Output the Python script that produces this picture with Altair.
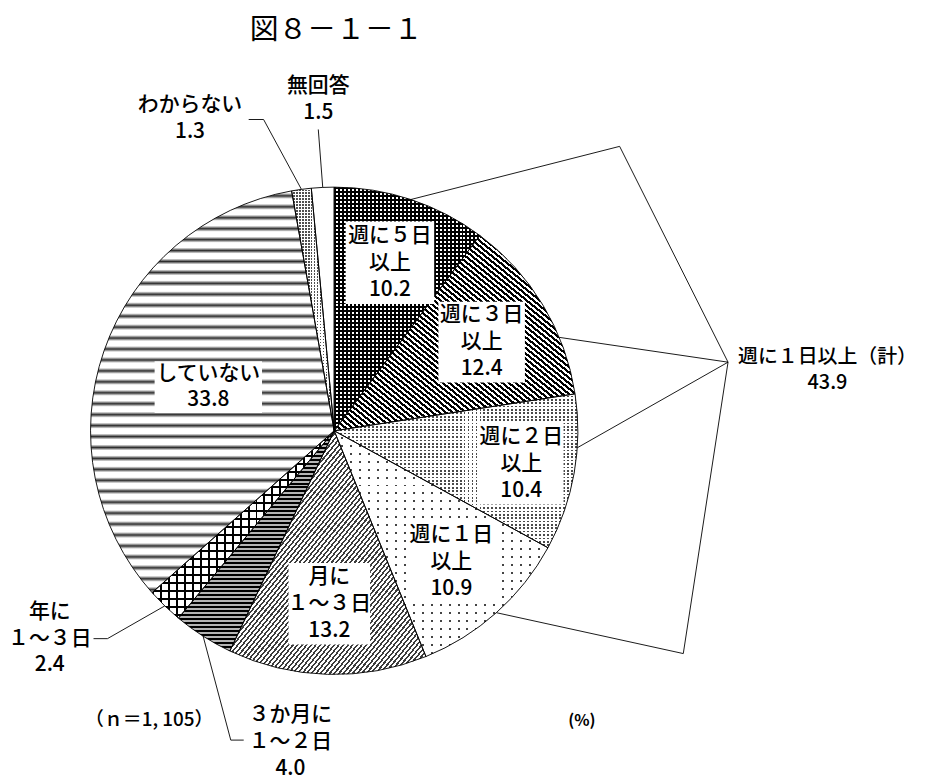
import math
import altair as alt
import pandas as pd

# ---------------- data ----------------
categories = ["週に５日以上", "週に３日以上", "週に２日以上", "週に１日以上", "月に１～３日",
              "３か月に１～２日", "年に１～３日", "していない", "わからない", "無回答"]
values = [10.2, 12.4, 10.4, 10.9, 13.2, 4.0, 2.4, 33.8, 1.3, 1.5]
label_names = ["週に５日\n以上", "週に３日\n以上", "週に２日\n以上", "週に１日\n以上", "月に\n１～３日",
               "３か月に\n１～２日", "年に\n１～３日", "していない", "わからない", "無回答"]
total_name = "週に１日以上（計）"
total_value = 43.9
n_label = "（ｎ＝1, 105）"
unit_label = "(%)"
title_text = "図８－１－１"

# ---------------- layout / style ----------------
W, H = 915, 772          # plot size (px); data coords = page coords (8px margin)
CX, CY, R = 336, 431, 245
FONT = "Noto Sans CJK JP"
FS = 21
FW = 500
LH = 27
TOTAL = sum(values)

inside = [0, 1, 2, 3, 4, 7]
label_radius = {0: 178, 1: 173, 2: 191, 3: 177, 4: 174, 7: 134}
box_size = {0: (89, 83), 1: (87, 81), 2: (85, 82), 3: (89, 82), 4: (82, 82), 7: (108, 52)}
outside_pos = {5: (292, 744), 6: (50, 640), 8: (191, 117), 9: (320, 98)}
outside_elbows = {5: [(232, 742), (245, 742)], 6: [(108, 640), (94, 640)],
                  8: [(265, 118), (250, 118)], 9: [(320, 128)]}
total_pos = (832, 370)
bracket_top = (623, 145)
bracket_vertex = (732, 362)
bracket_bottom = (687, 655)
anchor_frac = {0: 0.5, 1: 0.69, 2: 0.34, 3: 0.5}

# ---------------- derived tables ----------------
starts, ends, acc = [], [], 0.0
for v in values:
    starts.append(acc)
    acc += v
    ends.append(acc)

df = pd.DataFrame({"idx": list(range(len(values))), "cat": categories,
                   "value": values, "t0": starts, "t1": ends})


def ang(t):
    return t / TOTAL * 2 * math.pi


def edge_point(i, f=0.5, r=R):
    a = ang(starts[i] + f * (ends[i] - starts[i]))
    return CX + r * math.sin(a), CY - r * math.cos(a)


def wedge_bbox(i):
    a0, a1 = ang(starts[i]), ang(ends[i])
    pts = [(0.0, 0.0), (R * math.sin(a0), -R * math.cos(a0)), (R * math.sin(a1), -R * math.cos(a1))]
    for k in range(5):
        a = k * math.pi / 2
        if a0 <= a <= a1:
            pts.append((R * math.sin(a), -R * math.cos(a)))
    xs_ = [p[0] for p in pts]
    ys_ = [p[1] for p in pts]
    return max(xs_) - min(xs_), max(ys_) - min(ys_)


def stripes(kind, w, h, period, profile):
    """profile: list of (px within period, colour) stops, repeated every period px."""
    if kind == "h":
        L, c = h, dict(x1=0, y1=0, x2=0, y2=1)
    elif kind == "v":
        L, c = w, dict(x1=0, y1=0, x2=1, y2=0)
    elif kind == "d1":  # "/"
        L, c = 2 * w * h / math.hypot(w, h), dict(x1=0, y1=0, x2=1, y2=1)
    else:  # "\"
        L, c = 2 * w * h / math.hypot(w, h), dict(x1=0, y1=1, x2=1, y2=0)
    stops = []
    k = 0
    while k * period < L:
        for px, col in profile:
            stops.append((min((k * period + px) / L, 1.0), col))
        k += 1
    return alt.LinearGradient(gradient="linear",
                              stops=[alt.GradientStop(offset=round(o, 5), color=col) for o, col in stops],
                              **c)


def hard(period, width_a, col_a, col_b):
    return (period, [(0, col_a), (width_a, col_a), (width_a, col_b), (period, col_b)])


CLEAR = "rgba(255,255,255,0)"
WAVE = (11, [(0, "#ffffff"), (2.0, "#ffffff"), (3.5, "#9a9a9a"), (5.0, "#2e2e2e"),
             (6.5, "#9a9a9a"), (8.0, "#ffffff"), (11, "#ffffff")])
# pattern recipes per slice: list of layers
patterns = {
    0: [("h",) + hard(4, 2, "#000000", "#ffffff"), ("v",) + hard(4, 2, "#000000", CLEAR)],
    1: [("d2",) + hard(4.2, 2.2, "#000000", "#ffffff")],
    2: [("solid", "#4a4a4a"), ("h",) + hard(3.4, 1.7, "#ffffff", CLEAR),
        ("v",) + hard(4, 2.1, "#ffffff", CLEAR)],
    3: [("solid", "#444444"), ("h",) + hard(8, 6, "#ffffff", CLEAR),
        ("v",) + hard(9, 7, "#ffffff", CLEAR)],
    4: [("d1",) + hard(3.6, 1.6, "#3c3c3c", "#ffffff")],
    5: [("h",) + hard(4, 2, "#000000", "#b4b4b4")],
    6: [("h",) + hard(8, 2, "#000000", "#ffffff"), ("v",) + hard(8, 2, "#000000", CLEAR)],
    7: [("h",) + WAVE],
    8: [("solid", "#505050"), ("h",) + hard(3, 1.3, "#ffffff", CLEAR),
        ("v",) + hard(3, 1.3, "#ffffff", CLEAR)],
    9: [("solid", "#ffffff")],
}

xs = alt.Scale(domain=[8, 8 + W], nice=False, zero=False)
ys = alt.Scale(domain=[8, 8 + H], nice=False, zero=False, reverse=True)
ts = alt.Scale(domain=[0, TOTAL], nice=False)

base = alt.Chart(df)
layers = []
for i in range(len(values)):
    w, h = wedge_bbox(i)
    for spec in patterns[i]:
        if spec[0] == "solid":
            fill = spec[1]
        else:
            fill = stripes(spec[0], w, h, spec[1], spec[2])
        layers.append(
            base.transform_filter(alt.datum.idx == i)
            .mark_arc(radius=R, fill=fill, strokeWidth=0)
            .encode(theta=alt.Theta("t0:Q", scale=ts), theta2="t1:Q",
                    x=alt.value(CX - 8), y=alt.value(CY - 8))
        )

# outlines
layers.append(
    base.mark_arc(radius=R, fill="#ffffff", fillOpacity=0, stroke="#000000", strokeWidth=0.9)
    .encode(theta=alt.Theta("t0:Q", scale=ts), theta2="t1:Q",
            x=alt.value(CX - 8), y=alt.value(CY - 8))
)


def top_line_y(center_y, text):
    n = text.count("\n") + 1
    return center_y - (n - 1) * LH / 2


# inside labels (white boxes + text)
rows = []
for i in inside:
    lx, ly = edge_point(i, 0.5, label_radius[i])
    bw, bh = box_size[i]
    t = f"{label_names[i]}\n{values[i]:.1f}"
    rows.append({"x": lx, "y": top_line_y(ly, t), "bx": lx - bw / 2, "bx2": lx + bw / 2,
                 "by": ly - bh / 2, "by2": ly + bh / 2, "text": t})
inside_df = pd.DataFrame(rows)

layers.append(
    alt.Chart(inside_df).mark_rect(color="#ffffff").encode(
        x=alt.X("bx:Q", scale=xs, axis=None), x2="bx2:Q",
        y=alt.Y("by:Q", scale=ys, axis=None), y2="by2:Q")
)

# outside labels
orows = []
for i, (px, py) in outside_pos.items():
    t = f"{label_names[i]}\n{values[i]:.1f}"
    orows.append({"x": px, "y": top_line_y(py, t), "text": t})
text_df = pd.concat([inside_df[["x", "y", "text"]], pd.DataFrame(orows)], ignore_index=True)

layers.append(
    alt.Chart(text_df).mark_text(font=FONT, fontSize=FS, fontWeight=FW, lineBreak="\n", lineHeight=LH,
                                 align="center", baseline="middle", color="#000000").encode(
        x=alt.X("x:Q", scale=xs, axis=None), y=alt.Y("y:Q", scale=ys, axis=None), text="text:N")
)

total_text = f"{total_name}\n{total_value:.1f}"
total_df = pd.DataFrame({"x": [total_pos[0]], "y": [top_line_y(total_pos[1], total_text)],
                         "text": [total_text]})
layers.append(
    alt.Chart(total_df).mark_text(font=FONT, fontSize=20, fontWeight=FW, lineBreak="\n", lineHeight=LH - 1,
                                  align="center", baseline="middle", color="#000000").encode(
        x=alt.X("x:Q", scale=xs, axis=None), y=alt.Y("y:Q", scale=ys, axis=None), text="text:N")
)

# leader lines
lrows = []
g = 0
for i, elbows in outside_elbows.items():
    pts = [edge_point(i)] + elbows
    for k, (px, py) in enumerate(pts):
        lrows.append({"g": g, "o": k, "x": px, "y": py})
    g += 1
paths = [
    [edge_point(0, anchor_frac[0]), bracket_top, bracket_vertex],
    [edge_point(1, anchor_frac[1]), bracket_vertex],
    [edge_point(2, anchor_frac[2]), bracket_vertex],
    [bracket_vertex, bracket_bottom, edge_point(3, anchor_frac[3])],
]
for pts in paths:
    for k, (px, py) in enumerate(pts):
        lrows.append({"g": g, "o": k, "x": px, "y": py})
    g += 1
lines_df = pd.DataFrame(lrows)

layers.append(
    alt.Chart(lines_df).mark_line(color="#000000", strokeWidth=0.9).encode(
        x=alt.X("x:Q", scale=xs, axis=None), y=alt.Y("y:Q", scale=ys, axis=None),
        detail="g:N", order="o:Q")
)

# title, n and unit
misc = [(title_text, 338, 28, 29, "normal"), (n_label, 150, 722, 19, FW),
        (unit_label, 585, 723, 16, "bold")]
for txt, mx, my, msize, mweight in misc:
    layers.append(
        alt.Chart(pd.DataFrame({"x": [mx], "y": [my], "text": [txt]}))
        .mark_text(font=FONT, fontSize=msize, fontWeight=mweight, align="center",
                   baseline="middle", color="#000000")
        .encode(x=alt.X("x:Q", scale=xs, axis=None), y=alt.Y("y:Q", scale=ys, axis=None),
                text="text:N")
    )

chart = alt.layer(*layers).properties(
    width=W, height=H, padding=0, autosize=alt.AutoSizeParams(type="none"),
    background="#ffffff"
).configure_view(stroke=None)

chart.save("out.html", embed_options={"renderer": "svg", "actions": False})
